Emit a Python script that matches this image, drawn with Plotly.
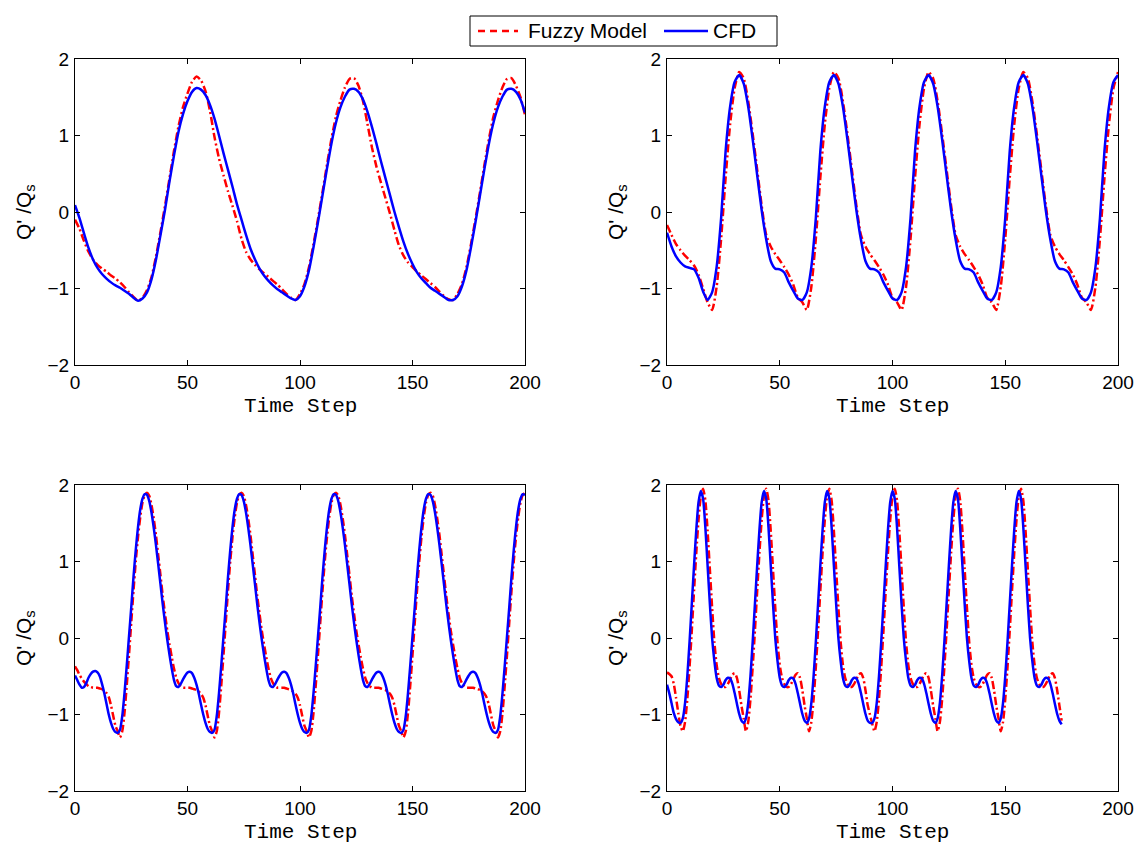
import plotly.graph_objects as go

# ---------------- data ----------------
# time steps (panels 1-2 sampled every 2 steps, panels 3-4 every step)
t_a = list(range(0, 201, 2))
t_c = list(range(0, 201))
t_d = list(range(0, 176))

# Panel 1
cfd_1 = [
    0.09, -0.08, -0.28, -0.47, -0.62, -0.73, -0.81, -0.87, -0.92, -0.96,
    -0.99, -1.03, -1.07, -1.12, -1.16, -1.13, -1.05, -0.88, -0.62, -0.30,
    0.03, 0.40, 0.74, 1.05, 1.28, 1.45, 1.57, 1.62, 1.60, 1.53,
    1.40, 1.22, 1.00, 0.77, 0.55, 0.33, 0.10, -0.10, -0.30, -0.48,
    -0.62, -0.74, -0.83, -0.90, -0.96, -1.01, -1.05, -1.09, -1.13, -1.15,
    -1.10, -0.97, -0.76, -0.46, -0.13, 0.22, 0.57, 0.90, 1.17, 1.37,
    1.51, 1.60, 1.61, 1.57, 1.47, 1.31, 1.11, 0.89, 0.66, 0.44,
    0.22, 0.00, -0.20, -0.39, -0.55, -0.68, -0.79, -0.87, -0.93, -0.99,
    -1.03, -1.07, -1.11, -1.15, -1.15, -1.10, -0.97, -0.76, -0.46, -0.13,
    0.22, 0.57, 0.90, 1.17, 1.37, 1.51, 1.60, 1.61, 1.57, 1.47,
    1.30,
]
fuzzy_1 = [
    -0.10, -0.22, -0.38, -0.52, -0.62, -0.69, -0.74, -0.78, -0.83, -0.87,
    -0.92, -0.98, -1.05, -1.11, -1.16, -1.12, -1.02, -0.85, -0.58, -0.26,
    0.08, 0.44, 0.80, 1.12, 1.37, 1.55, 1.70, 1.77, 1.72, 1.58,
    1.32, 0.98, 0.70, 0.48, 0.27, 0.08, -0.12, -0.35, -0.52, -0.62,
    -0.69, -0.75, -0.80, -0.85, -0.90, -0.95, -1.01, -1.07, -1.12, -1.15,
    -1.07, -0.94, -0.72, -0.42, -0.09, 0.26, 0.62, 0.96, 1.25, 1.46,
    1.63, 1.74, 1.75, 1.65, 1.45, 1.15, 0.84, 0.59, 0.38, 0.18,
    -0.02, -0.24, -0.44, -0.57, -0.66, -0.72, -0.78, -0.83, -0.88, -0.93,
    -0.98, -1.04, -1.10, -1.14, -1.15, -1.07, -0.94, -0.72, -0.42, -0.09,
    0.26, 0.62, 0.96, 1.25, 1.46, 1.63, 1.74, 1.75, 1.65, 1.50,
    1.27,
]

# Panel 2
cfd_2 = [
    -0.27, -0.45, -0.58, -0.66, -0.71, -0.73, -0.75, -0.86, -1.04, -1.15,
    -1.05, -0.72, -0.08, 0.80, 1.38, 1.70, 1.79, 1.68, 1.38, 0.95,
    0.48, 0.02, -0.36, -0.64, -0.74, -0.75, -0.79, -0.92, -1.03, -1.13,
    -1.15, -1.05, -0.72, -0.08, 0.80, 1.38, 1.70, 1.79, 1.68, 1.38,
    0.95, 0.48, 0.02, -0.36, -0.64, -0.74, -0.75, -0.79, -0.92, -1.03,
    -1.13, -1.15, -1.05, -0.72, -0.08, 0.80, 1.38, 1.70, 1.79, 1.68,
    1.38, 0.95, 0.48, 0.02, -0.36, -0.64, -0.74, -0.75, -0.79, -0.92,
    -1.03, -1.13, -1.15, -1.05, -0.72, -0.08, 0.80, 1.38, 1.70, 1.79,
    1.68, 1.38, 0.95, 0.48, 0.02, -0.36, -0.64, -0.74, -0.75, -0.79,
    -0.92, -1.03, -1.13, -1.15, -1.05, -0.72, -0.08, 0.80, 1.38, 1.70,
    1.79,
]
fuzzy_2 = [
    -0.17, -0.30, -0.42, -0.50, -0.57, -0.63, -0.70, -0.82, -1.00, -1.18,
    -1.28, -0.98, -0.35, 0.45, 1.15, 1.62, 1.83, 1.75, 1.45, 1.02,
    0.55, 0.08, -0.30, -0.45, -0.55, -0.63, -0.72, -0.82, -0.95, -1.12,
    -1.18, -1.28, -0.98, -0.35, 0.45, 1.15, 1.62, 1.83, 1.75, 1.45,
    1.02, 0.55, 0.08, -0.30, -0.45, -0.55, -0.63, -0.72, -0.82, -0.95,
    -1.12, -1.18, -1.28, -0.98, -0.35, 0.45, 1.15, 1.62, 1.83, 1.75,
    1.45, 1.02, 0.55, 0.08, -0.30, -0.45, -0.55, -0.63, -0.72, -0.82,
    -0.95, -1.12, -1.18, -1.28, -0.98, -0.35, 0.45, 1.15, 1.62, 1.83,
    1.75, 1.45, 1.02, 0.55, 0.08, -0.30, -0.45, -0.55, -0.63, -0.72,
    -0.82, -0.95, -1.12, -1.18, -1.28, -0.98, -0.35, 0.45, 1.15, 1.62,
    1.83,
]

# Panel 3
cfd_3 = [
    -0.49, -0.55, -0.61, -0.65, -0.64, -0.59, -0.52, -0.47, -0.44, -0.43,
    -0.45, -0.50, -0.60, -0.72, -0.86, -1.00, -1.11, -1.19, -1.23,
    -1.24, -1.20, -1.02, -0.72, -0.36, 0.02, 0.40, 0.80, 1.15, 1.45,
    1.68, 1.82, 1.88, 1.87, 1.79, 1.64, 1.44, 1.21, 0.96, 0.70,
    0.44, 0.20, -0.02, -0.22, -0.40, -0.55, -0.63, -0.64, -0.60, -0.54,
    -0.49, -0.45, -0.44, -0.46, -0.52, -0.61, -0.73, -0.87, -1.00, -1.11,
    -1.19, -1.23,
    -1.24, -1.20, -1.02, -0.72, -0.36, 0.02, 0.40, 0.80, 1.15, 1.45,
    1.68, 1.82, 1.88, 1.87, 1.79, 1.64, 1.44, 1.21, 0.96, 0.70,
    0.44, 0.20, -0.02, -0.22, -0.40, -0.55, -0.63, -0.64, -0.60, -0.54,
    -0.49, -0.45, -0.44, -0.46, -0.52, -0.61, -0.73, -0.87, -1.00, -1.11,
    -1.19, -1.23,
    -1.24, -1.20, -1.02, -0.72, -0.36, 0.02, 0.40, 0.80, 1.15, 1.45,
    1.68, 1.82, 1.88, 1.87, 1.79, 1.64, 1.44, 1.21, 0.96, 0.70,
    0.44, 0.20, -0.02, -0.22, -0.40, -0.55, -0.63, -0.64, -0.60, -0.54,
    -0.49, -0.45, -0.44, -0.46, -0.52, -0.61, -0.73, -0.87, -1.00, -1.11,
    -1.19, -1.23,
    -1.24, -1.20, -1.02, -0.72, -0.36, 0.02, 0.40, 0.80, 1.15, 1.45,
    1.68, 1.82, 1.88, 1.87, 1.79, 1.64, 1.44, 1.21, 0.96, 0.70,
    0.44, 0.20, -0.02, -0.22, -0.40, -0.55, -0.63, -0.64, -0.60, -0.54,
    -0.49, -0.45, -0.44, -0.46, -0.52, -0.61, -0.73, -0.87, -1.00, -1.11,
    -1.19, -1.23,
    -1.24, -1.20, -1.02, -0.72, -0.36, 0.02, 0.40, 0.80, 1.15, 1.45,
    1.68, 1.82, 1.88, 1.87,
]
fuzzy_3 = [
    -0.37, -0.42, -0.48, -0.53, -0.57, -0.60, -0.63, -0.64, -0.65, -0.65,
    -0.65, -0.66, -0.67, -0.69, -0.72, -0.77, -0.88, -1.02, -1.15,
    -1.22, -1.30, -1.22, -0.98, -0.62, -0.22, 0.20, 0.62, 1.00, 1.32,
    1.58, 1.77, 1.87, 1.90, 1.86, 1.74, 1.56, 1.34, 1.08, 0.82,
    0.55, 0.32, 0.10, -0.08, -0.25, -0.40, -0.52, -0.59, -0.63, -0.65,
    -0.65, -0.65, -0.65, -0.66, -0.67, -0.68, -0.70, -0.73, -0.78, -0.88,
    -1.02, -1.15,
    -1.22, -1.30, -1.22, -0.98, -0.62, -0.22, 0.20, 0.62, 1.00, 1.32,
    1.58, 1.77, 1.87, 1.90, 1.86, 1.74, 1.56, 1.34, 1.08, 0.82,
    0.55, 0.32, 0.10, -0.08, -0.25, -0.40, -0.52, -0.59, -0.63, -0.65,
    -0.65, -0.65, -0.65, -0.66, -0.67, -0.68, -0.70, -0.73, -0.78, -0.88,
    -1.02, -1.15,
    -1.22, -1.30, -1.22, -0.98, -0.62, -0.22, 0.20, 0.62, 1.00, 1.32,
    1.58, 1.77, 1.87, 1.90, 1.86, 1.74, 1.56, 1.34, 1.08, 0.82,
    0.55, 0.32, 0.10, -0.08, -0.25, -0.40, -0.52, -0.59, -0.63, -0.65,
    -0.65, -0.65, -0.65, -0.66, -0.67, -0.68, -0.70, -0.73, -0.78, -0.88,
    -1.02, -1.15,
    -1.22, -1.30, -1.22, -0.98, -0.62, -0.22, 0.20, 0.62, 1.00, 1.32,
    1.58, 1.77, 1.87, 1.90, 1.86, 1.74, 1.56, 1.34, 1.08, 0.82,
    0.55, 0.32, 0.10, -0.08, -0.25, -0.40, -0.52, -0.59, -0.63, -0.65,
    -0.65, -0.65, -0.65, -0.66, -0.67, -0.68, -0.70, -0.73, -0.78, -0.88,
    -1.02, -1.15,
    -1.22, -1.30, -1.22, -0.98, -0.62, -0.22, 0.20, 0.62, 1.00, 1.32,
    1.58, 1.77, 1.87, 1.90,
]

# Panel 4
cfd_4 = [
    -0.61, -0.72, -0.85, -0.98, -1.06, -1.10,
    -1.11, -1.05, -0.85, -0.50, -0.05, 0.45, 0.95, 1.42, 1.78, 1.92,
    1.82, 1.45, 0.95, 0.45, 0.00, -0.30, -0.52, -0.62, -0.64, -0.61,
    -0.55, -0.52, -0.53, -0.60, -0.72, -0.86, -0.99, -1.08,
    -1.11, -1.05, -0.85, -0.50, -0.05, 0.45, 0.95, 1.42, 1.78, 1.92,
    1.82, 1.45, 0.95, 0.45, 0.00, -0.30, -0.52, -0.62, -0.64, -0.61,
    -0.55, -0.52, -0.53, -0.60, -0.72, -0.86, -0.99, -1.08,
    -1.11, -1.05, -0.85, -0.50, -0.05, 0.45, 0.95, 1.42, 1.78, 1.92,
    1.82, 1.45, 0.95, 0.45, 0.00, -0.30, -0.52, -0.62, -0.64, -0.61,
    -0.55, -0.52, -0.53, -0.60, -0.72, -0.86, -0.99, -1.08, -1.11,
    -1.11, -1.05, -0.85, -0.50, -0.05, 0.45, 0.95, 1.42, 1.78, 1.92,
    1.82, 1.45, 0.95, 0.45, 0.00, -0.30, -0.52, -0.62, -0.64, -0.61,
    -0.55, -0.52, -0.53, -0.60, -0.72, -0.86, -0.99, -1.08,
    -1.11, -1.05, -0.85, -0.50, -0.05, 0.45, 0.95, 1.42, 1.78, 1.92,
    1.82, 1.45, 0.95, 0.45, 0.00, -0.30, -0.52, -0.62, -0.64, -0.61,
    -0.55, -0.52, -0.53, -0.60, -0.72, -0.86, -0.99, -1.08,
    -1.11, -1.05, -0.85, -0.50, -0.05, 0.45, 0.95, 1.42, 1.78, 1.92,
    1.82, 1.45, 0.95, 0.45, 0.00, -0.30, -0.52, -0.62, -0.64, -0.61,
    -0.55, -0.52, -0.53, -0.60, -0.72, -0.86, -0.99, -1.08, -1.13,
]
fuzzy_4 = [
    -0.45, -0.47, -0.50, -0.60, -0.78, -0.98,
    -1.15, -1.22, -1.10, -0.80, -0.38, 0.10, 0.62, 1.12, 1.55, 1.85,
    1.95, 1.80, 1.40, 0.90, 0.40, -0.05, -0.35, -0.52, -0.60, -0.64,
    -0.64, -0.60, -0.54, -0.48, -0.46, -0.52, -0.68, -0.88,
    -1.05, -1.22, -1.10, -0.80, -0.38, 0.10, 0.62, 1.12, 1.55, 1.85,
    1.95, 1.80, 1.40, 0.90, 0.40, -0.05, -0.35, -0.52, -0.60, -0.64,
    -0.64, -0.60, -0.54, -0.48, -0.46, -0.52, -0.68, -0.88,
    -1.05, -1.22, -1.10, -0.80, -0.38, 0.10, 0.62, 1.12, 1.55, 1.85,
    1.95, 1.80, 1.40, 0.90, 0.40, -0.05, -0.35, -0.52, -0.60, -0.64,
    -0.64, -0.60, -0.54, -0.48, -0.46, -0.52, -0.68, -0.88, -1.00,
    -1.12, -1.22, -1.10, -0.80, -0.38, 0.10, 0.62, 1.12, 1.55, 1.85,
    1.95, 1.80, 1.40, 0.90, 0.40, -0.05, -0.35, -0.52, -0.60, -0.64,
    -0.64, -0.60, -0.54, -0.48, -0.46, -0.52, -0.68, -0.88,
    -1.05, -1.22, -1.10, -0.80, -0.38, 0.10, 0.62, 1.12, 1.55, 1.85,
    1.95, 1.80, 1.40, 0.90, 0.40, -0.05, -0.35, -0.52, -0.60, -0.64,
    -0.64, -0.60, -0.54, -0.48, -0.46, -0.52, -0.68, -0.88,
    -1.05, -1.22, -1.10, -0.80, -0.38, 0.10, 0.62, 1.12, 1.55, 1.85,
    1.95, 1.80, 1.40, 0.90, 0.40, -0.05, -0.35, -0.52, -0.60, -0.64,
    -0.64, -0.60, -0.54, -0.48, -0.46, -0.52, -0.68, -0.88, -1.08,
]

x_ticks = [0, 50, 100, 150, 200]
y_ticks = [-2, -1, 0, 1, 2]
series_names = ["Fuzzy Model", "CFD"]
x_title = "Time Step"
y_title = "Q' /Q<sub>s</sub>"

panels = [
    (t_a, fuzzy_1, cfd_1),
    (t_a, fuzzy_2, cfd_2),
    (t_c, fuzzy_3, cfd_3),
    (t_d, fuzzy_4, cfd_4),
]

# ---------------- layout geometry (pixels) ----------------
W, H = 1147, 843
boxes = [  # left, right, top, bottom
    (75, 525, 59, 365),
    (667, 1118, 59, 365),
    (75, 525, 485, 791),
    (667, 1118, 485, 791),
]

RED = "#ff0000"
BLUE = "#0000ff"
SANS = "Liberation Sans, Arial, Helvetica, sans-serif"
MONO = "Liberation Mono, Courier New, monospace"
FUZZY_DASH = "8px,3px,2px,3px"


def px(x):
    return x / W


def py(y):
    return 1 - y / H


fig = go.Figure()

for i, (t, fz, cf) in enumerate(panels):
    suffix = "" if i == 0 else str(i + 1)
    fig.add_trace(go.Scatter(
        x=t, y=fz, mode="lines", name=series_names[0], showlegend=False,
        line=dict(color=RED, width=2.5, dash=FUZZY_DASH, shape="spline", smoothing=0.6),
        xaxis="x" + suffix, yaxis="y" + suffix,
    ))
    fig.add_trace(go.Scatter(
        x=t, y=cf, mode="lines", name=series_names[1], showlegend=False,
        line=dict(color=BLUE, width=2.5, shape="spline", smoothing=0.6),
        xaxis="x" + suffix, yaxis="y" + suffix,
    ))

axis_common = dict(
    showline=True, linecolor="black", linewidth=1, mirror="ticks",
    ticks="inside", ticklen=5, tickwidth=1, tickcolor="black",
    showgrid=False, zeroline=False, automargin=False,
    tickfont=dict(family=SANS, size=19, color="black"),
)

shapes = []
annotations = []

for i, (l, r, tp, bt) in enumerate(boxes):
    suffix = "" if i == 0 else str(i + 1)
    fig.layout["xaxis" + suffix] = dict(
        axis_common, domain=[px(l), px(r)], range=[0, 200],
        tickvals=x_ticks, anchor="y" + suffix, ticklabelstandoff=0,
    )
    fig.layout["yaxis" + suffix] = dict(
        axis_common, domain=[py(bt), py(tp)], range=[-2, 2],
        tickvals=y_ticks, anchor="x" + suffix, ticklabelstandoff=1,
    )
    annotations.append(dict(
        text=x_title, xref="paper", yref="paper",
        x=px((l + r) / 2), y=py(bt + 41), xanchor="center", yanchor="middle",
        showarrow=False, font=dict(family=MONO, size=21, color="black"),
    ))
    annotations.append(dict(
        text=y_title, xref="paper", yref="paper", textangle=-90,
        x=px(l - 50), y=py((tp + bt) / 2), xanchor="center", yanchor="middle",
        showarrow=False, font=dict(family=SANS, size=21, color="black"),
    ))

# legend box drawn at the top centre
shapes.append(dict(type="rect", xref="paper", yref="paper",
                   x0=px(470), x1=px(777), y0=py(46), y1=py(16),
                   line=dict(color="black", width=1), fillcolor="white"))
shapes.append(dict(type="line", xref="paper", yref="paper",
                   x0=px(478), x1=px(518), y0=py(31), y1=py(31),
                   line=dict(color=RED, width=2.5, dash="7px,5px")))
shapes.append(dict(type="line", xref="paper", yref="paper",
                   x0=px(664), x1=px(708), y0=py(31), y1=py(31),
                   line=dict(color=BLUE, width=2.5)))
annotations.append(dict(text=series_names[0], xref="paper", yref="paper",
                        x=px(526), y=py(31), xanchor="left", yanchor="middle",
                        showarrow=False, font=dict(family=SANS, size=21, color="black")))
annotations.append(dict(text=series_names[1], xref="paper", yref="paper",
                        x=px(711), y=py(31), xanchor="left", yanchor="middle",
                        showarrow=False, font=dict(family=SANS, size=21, color="black")))

fig.update_layout(
    width=W, height=H,
    margin=dict(l=0, r=0, t=0, b=0, autoexpand=False),
    paper_bgcolor="white", plot_bgcolor="white",
    showlegend=False,
    shapes=shapes,
    annotations=annotations,
)
fig.write_html("out.html")
